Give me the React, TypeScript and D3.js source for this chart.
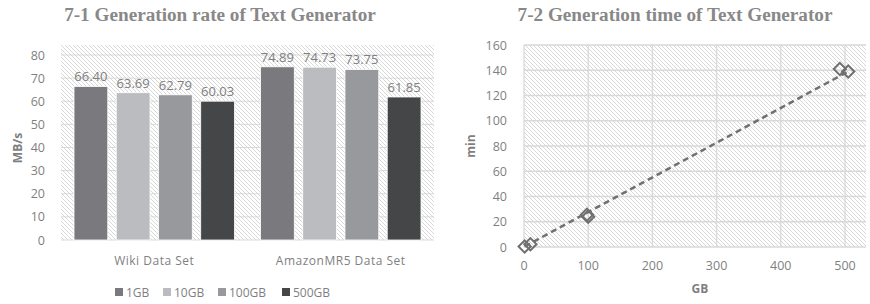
import * as d3 from "d3";

const categories = ["Wiki Data Set", "AmazonMR5 Data Set"];
const sizes = ["1GB", "10GB", "100GB", "500GB"];
const rates = [
  [66.4, 63.69, 62.79, 60.03],
  [74.89, 74.73, 73.75, 61.85],
];
const barColors = ["#7a7a7e", "#bbbcc0", "#98999d", "#454648"];
const rateTicks = [0, 10, 20, 30, 40, 50, 60, 70, 80];

// generation time: GB vs min, two runs
const timeSeriesA = [
  { gb: 1, min: 0.4 },
  { gb: 98, min: 25.5 },
  { gb: 492, min: 141 },
];
const timeSeriesB = [
  { gb: 10, min: 2.2 },
  { gb: 100, min: 24 },
  { gb: 505, min: 139 },
];
const timeYTicks = [0, 20, 40, 60, 80, 100, 120, 140, 160];
const timeXTicks = [0, 100, 200, 300, 400, 500];

const FONT = "'Open Sans', 'DejaVu Sans', sans-serif";
const TXT = "#7f7f7f";
const GRID = "#d9d9d9";
const TITLE_FONT = "'Liberation Serif', 'Times New Roman', serif";

const BarChart = () => {
  const x0 = d3.scaleBand().domain(categories).range([61, 434]);
  const x1 = d3
    .scaleBand()
    .domain(sizes)
    .range([13, x0.bandwidth() - 13])
    .paddingInner(0.2);
  const y = d3.scaleLinear().domain([0, 80]).range([240, 55]);

  return (
    <g>
      <text x={220} y={21} textAnchor="middle" fontFamily={TITLE_FONT} fontWeight="bold" fontSize={19.2} fill="#888">
        7-1 Generation rate of Text Generator
      </text>
      <rect x={61} y={45} width={373} height={195} fill="url(#hatch)" />
      {rateTicks.map((t) => (
        <g key={t}>
          <line x1={61} x2={434} y1={y(t)} y2={y(t)} stroke={GRID} strokeWidth={1} />
          <text x={45} y={y(t) + 4.5} textAnchor="end" fontFamily={FONT} fontSize={12.5} fill={TXT}>
            {t}
          </text>
        </g>
      ))}
      {categories.map((c, ci) => (
        <g key={c} transform={`translate(${x0(c)},0)`}>
          {sizes.map((s, si) => (
            <g key={s}>
              <rect
                x={x1(s)}
                y={y(rates[ci][si])}
                width={x1.bandwidth()}
                height={y(0) - y(rates[ci][si])}
                fill={barColors[si]}
                stroke="#fff"
                strokeWidth={0.8}
              />
              <text
                x={(x1(s) as number) + x1.bandwidth() / 2}
                y={y(rates[ci][si]) - 5}
                textAnchor="middle"
                fontFamily={FONT}
                fontSize={13}
                fill={TXT}
              >
                {rates[ci][si].toFixed(2)}
              </text>
            </g>
          ))}
          <text x={x0.bandwidth() / 2} y={265} textAnchor="middle" fontFamily={FONT} fontSize={12} fill={TXT} letterSpacing={0.5}>
            {c}
          </text>
        </g>
      ))}
      <text transform="translate(22,148) rotate(-90)" textAnchor="middle" fontFamily={FONT} fontWeight="bold" fontSize={12} fill={TXT}>
        MB/s
      </text>
      {sizes.map((s, i) => {
        const lx = [115, 163, 218, 282][i];
        return (
          <g key={s}>
            <rect x={lx} y={288} width={8} height={8} fill={barColors[i]} />
            <text x={lx + 11} y={296.5} fontFamily={FONT} fontSize={12} fill={TXT}>
              {s}
            </text>
          </g>
        );
      })}
    </g>
  );
};

const ScatterChart = () => {
  const x = d3.scaleLinear().domain([0, 500]).range([524, 845]);
  const y = d3.scaleLinear().domain([0, 160]).range([247, 45]);
  const all = [...timeSeriesA, ...timeSeriesB].sort((a, b) => a.gb - b.gb);
  const line = d3
    .line<{ gb: number; min: number }>()
    .x((d) => x(d.gb))
    .y((d) => y(d.min));
  const trend = [all[0], all[all.length - 1]];
  const diamond = (d: { gb: number; min: number }, k: string) => (
    <rect
      key={k}
      x={-4.3}
      y={-4.3}
      width={8.6}
      height={8.6}
      transform={`translate(${x(d.gb)},${y(d.min)}) rotate(45)`}
      fill="none"
      stroke="#6f6f6f"
      strokeWidth={2}
    />
  );
  return (
    <g>
      <text x={675} y={21} textAnchor="middle" fontFamily={TITLE_FONT} fontWeight="bold" fontSize={19.2} fill="#888">
        7-2 Generation time of Text Generator
      </text>
      <rect x={524} y={45} width={342} height={202} fill="url(#hatch)" />
      {timeYTicks.map((t) => (
        <g key={t}>
          <line x1={524} x2={866} y1={y(t)} y2={y(t)} stroke={GRID} strokeWidth={1.3} />
          <text x={507} y={y(t) + 4.5} textAnchor="end" fontFamily={FONT} fontSize={12.5} fill={TXT}>
            {t}
          </text>
        </g>
      ))}
      {timeXTicks.map((t) => (
        <g key={t}>
          <line x1={x(t)} x2={x(t)} y1={45} y2={247} stroke={GRID} strokeWidth={1.3} />
          <text x={x(t)} y={270} textAnchor="middle" fontFamily={FONT} fontSize={12.5} fill={TXT}>
            {t}
          </text>
        </g>
      ))}
      <path d={line(trend) as string} fill="none" stroke="#707070" strokeWidth={2.5} strokeDasharray="6,4" />
      {all.map((d, i) => diamond(d, "p" + i))}
      <text transform="translate(475,146) rotate(-90)" textAnchor="middle" fontFamily={FONT} fontWeight="bold" fontSize={12} fill={TXT}>
        min
      </text>
      <text x={700} y={293} textAnchor="middle" fontFamily={FONT} fontWeight="bold" fontSize={12} fill={TXT}>
        GB
      </text>
    </g>
  );
};

export default function App() {
  return (
    <svg width={870} height={304} style={{ position: "absolute", left: 0, top: 0, background: "#fff" }}>
      <defs>
        <pattern id="hatch" patternUnits="userSpaceOnUse" width={4} height={4}>
          <rect width={4} height={4} fill="#fff" />
          <path d="M-1,-1 L5,5 M3,-1 L5,1 M-1,3 L1,5" stroke="#d4d4d4" strokeWidth={0.9} />
        </pattern>
      </defs>
      <BarChart />
      <ScatterChart />
    </svg>
  );
}
